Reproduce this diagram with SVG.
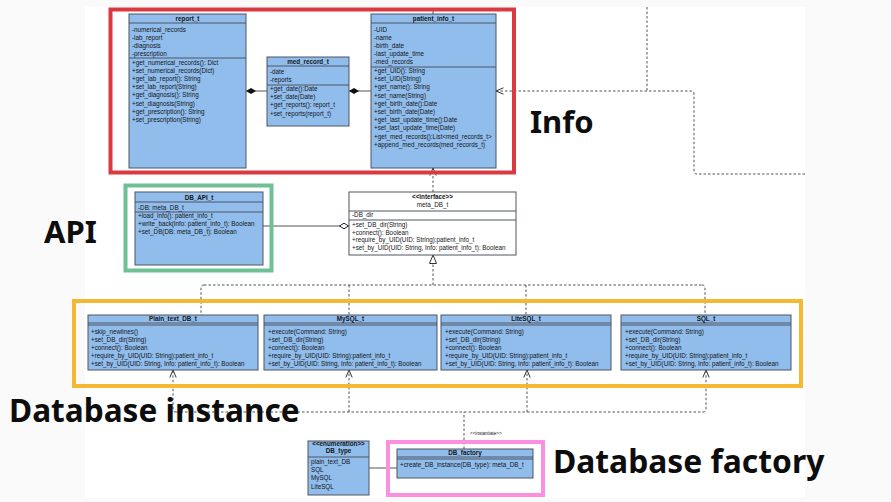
<svg xmlns="http://www.w3.org/2000/svg" width="891" height="502" viewBox="0 0 891 502">
<style>
.cls{fill:#90bdec;stroke:#4f5563;stroke-width:1}
.iface{fill:#ffffff;stroke:#4f5563;stroke-width:1}
.sep{stroke:#4f5563;stroke-width:1;fill:none}
.t{font-family:"Liberation Sans",Arial,sans-serif;font-size:6.3px;fill:#151515}
.h{font-weight:bold;text-anchor:middle}
.lbl{font-family:"Noto Sans","DejaVu Sans",sans-serif;font-weight:bold;font-size:31px;fill:#0d0d0d}
.dash{fill:none;stroke:#555;stroke-width:1;stroke-dasharray:2.5,2}
.solid{fill:none;stroke:#555;stroke-width:1}
.hl{fill:none;stroke-width:4}
</style>
<defs>
<marker id="open" viewBox="0 0 8 8" refX="8" refY="4" markerWidth="8" markerHeight="8" orient="auto" markerUnits="userSpaceOnUse"><path d="M0.5,0.8 L8,4 L0.5,7.2" fill="none" stroke="#333" stroke-width="1"/></marker>
<marker id="tri" viewBox="0 0 9 8" refX="9" refY="4" markerWidth="9" markerHeight="8" orient="auto" markerUnits="userSpaceOnUse"><path d="M0.5,0.5 L9,4 L0.5,7.5 Z" fill="#fff" stroke="#333" stroke-width="1"/></marker>
<marker id="fdia" viewBox="0 0 10 6" refX="10" refY="3" markerWidth="10" markerHeight="6" orient="auto" markerUnits="userSpaceOnUse"><path d="M0,3 L5,0 L10,3 L5,6 Z" fill="#111"/></marker>
<marker id="hdia" viewBox="0 0 10 7" refX="10" refY="3.5" markerWidth="10" markerHeight="7" orient="auto" markerUnits="userSpaceOnUse"><path d="M0.5,3.5 L5,0.7 L9.5,3.5 L5,6.3 Z" fill="#fff" stroke="#222" stroke-width="1"/></marker>
</defs>
<rect x="0" y="0" width="891" height="502" fill="#fafafa"/>
<rect x="85" y="7" width="720" height="490" fill="#ffffff"/>

<g id="connectors">
<path class="solid" d="M267,91 H246" marker-end="url(#fdia)"/>
<path class="solid" d="M371,91 H349" marker-end="url(#fdia)"/>
<path class="solid" d="M263,226 H349" marker-end="url(#hdia)"/>
<path class="solid" d="M369,468 H397"/>
<path class="solid" d="M433,8 V14"/>
<path class="dash" d="M433,192 V168" marker-end="url(#open)"/>
<path class="dash" d="M805,174 H697 Q694,174 694,171 V94 Q694,91 691,91 H496" marker-end="url(#open)"/>
<path class="dash" d="M647,7 V91"/>
<path class="dash" d="M433,285 V255" marker-end="url(#tri)"/>
<path class="dash" d="M204,285 H702"/>
<path class="dash" d="M204,285 Q201,285 201,288 V315"/>
<path class="dash" d="M349,285 V315"/>
<path class="dash" d="M526,285 V315"/>
<path class="dash" d="M702,285 Q705,285 705,288 V315"/>
<path class="dash" d="M464,449 V412"/>
<path class="dash" d="M176,412 H703"/>
<path class="dash" d="M176,412 Q173,412 173,409 V370" marker-end="url(#open)"/>
<path class="dash" d="M349,412 V370" marker-end="url(#open)"/>
<path class="dash" d="M527,412 V370" marker-end="url(#open)"/>
<path class="dash" d="M703,412 Q706,412 706,409 V370" marker-end="url(#open)"/>
<text class="t" x="470" y="435" style="font-size:4.6px">&lt;&lt;instantiate&gt;&gt;</text>
</g>

<g id="report_t">
<rect class="cls" x="129" y="14" width="117" height="154"/>
<path class="sep" d="M129,23 H246 M129,58 H246"/>
<text class="t h" x="187.5" y="21">report_t</text>
<text class="t" x="132" y="31.5">-numerical_records</text>
<text class="t" x="132" y="39.5">-lab_report</text>
<text class="t" x="132" y="47.5">-diagnosis</text>
<text class="t" x="132" y="55.5">-prescription</text>
<text class="t" x="132" y="64.5">+get_numerical_records(): Dict</text>
<text class="t" x="132" y="72.7">+set_numerical_records(Dict)</text>
<text class="t" x="132" y="80.9">+get_lab_report(): String</text>
<text class="t" x="132" y="89.1">+set_lab_report(String)</text>
<text class="t" x="132" y="97.3">+get_diagnosis(): String</text>
<text class="t" x="132" y="105.5">+set_diagnosis(String)</text>
<text class="t" x="132" y="113.7">+get_prescription(): String</text>
<text class="t" x="132" y="121.9">+set_prescription(String)</text>
</g>

<g id="med_record_t">
<rect class="cls" x="267" y="57" width="82" height="69"/>
<path class="sep" d="M267,66 H349 M267,85 H349"/>
<text class="t h" x="308" y="64">med_record_t</text>
<text class="t" x="270" y="73.5">-date</text>
<text class="t" x="270" y="82">-reports</text>
<text class="t" x="270" y="91">+get_date():Date</text>
<text class="t" x="270" y="99.2">+set_date(Date)</text>
<text class="t" x="270" y="107.4">+get_reports(): report_t</text>
<text class="t" x="270" y="115.6">+set_reports(report_t)</text>
</g>

<g id="patient_info_t">
<rect class="cls" x="371" y="14" width="125" height="154"/>
<path class="sep" d="M371,23 H496 M371,67 H496"/>
<text class="t h" x="433.5" y="21">patient_info_t</text>
<text class="t" x="374" y="31.5">-UID</text>
<text class="t" x="374" y="39.5">-name</text>
<text class="t" x="374" y="47.5">-birth_date</text>
<text class="t" x="374" y="55.5">-last_update_time</text>
<text class="t" x="374" y="63.5">-med_records</text>
<text class="t" x="374" y="73">+get_UID(): String</text>
<text class="t" x="374" y="81.2">+set_UID(String)</text>
<text class="t" x="374" y="89.4">+get_name(): String</text>
<text class="t" x="374" y="97.6">+set_name(String)</text>
<text class="t" x="374" y="105.8">+get_birth_date():Date</text>
<text class="t" x="374" y="114">+set_birth_date(Date)</text>
<text class="t" x="374" y="122.2">+get_last_update_time():Date</text>
<text class="t" x="374" y="130.4">+set_last_update_time(Date)</text>
<text class="t" x="374" y="138.6">+get_med_records():List&lt;med_records_t&gt;</text>
<text class="t" x="374" y="146.8">+append_med_records(med_records_t)</text>
</g>

<g id="DB_API_t">
<rect class="cls" x="135" y="192" width="128" height="73"/>
<path class="sep" d="M135,202 H263 M135,212 H263"/>
<text class="t h" x="199" y="199.5">DB_API_t</text>
<text class="t" x="138" y="210">-DB: meta_DB_t</text>
<text class="t" x="138" y="218.3">+load_info(): patient_info_t</text>
<text class="t" x="138" y="226.3">+write_back(Info: patient_info_t): Boolean</text>
<text class="t" x="138" y="234.3">+set_DB(DB: meta_DB_t): Boolean</text>
</g>

<g id="meta_DB_t">
<rect class="iface" x="349" y="192" width="167" height="63"/>
<path class="sep" d="M349,211 H516 M349,220 H516"/>
<text class="t h" x="432.5" y="198.5">&lt;&lt;interface&gt;&gt;</text>
<text class="t h" x="432.5" y="206.5" style="font-weight:normal">meta_DB_t</text>
<text class="t" x="352" y="216.5">-DB_dir</text>
<text class="t" x="352" y="227">+set_DB_dir(String)</text>
<text class="t" x="352" y="234.6">+connect(): Boolean</text>
<text class="t" x="352" y="242.4">+require_by_UID(UID: String):patient_info_t</text>
<text class="t" x="352" y="250.2">+set_by_UID(UID: String, Info: patient_info_t): Boolean</text>
</g>

<g id="Plain_text_DB_t">
<rect class="cls" x="88" y="315" width="170" height="55"/>
<path class="sep" d="M88,323 H258 M88,325 H258"/>
<text class="t h" x="173" y="321.3">Plain_text_DB_t</text>
<text class="t" x="91" y="333.8">+skip_newlines()</text>
<text class="t" x="91" y="341.8">+set_DB_dir(String)</text>
<text class="t" x="91" y="349.8">+connect(): Boolean</text>
<text class="t" x="91" y="357.8">+require_by_UID(UID: String):patient_info_t</text>
<text class="t" x="91" y="365.8">+set_by_UID(UID: String, Info: patient_info_t): Boolean</text>
</g>

<g id="MySQL_t">
<rect class="cls" x="264" y="315" width="173" height="55"/>
<path class="sep" d="M264,323 H437 M264,325 H437"/>
<text class="t h" x="350.5" y="321.3">MySQL_t</text>
<text class="t" x="268" y="333.8">+execute(Command: String)</text>
<text class="t" x="268" y="341.8">+set_DB_dir(String)</text>
<text class="t" x="268" y="349.8">+connect(): Boolean</text>
<text class="t" x="268" y="357.8">+require_by_UID(UID: String):patient_info_t</text>
<text class="t" x="268" y="365.8">+set_by_UID(UID: String, Info: patient_info_t): Boolean</text>
</g>

<g id="LiteSQL_t">
<rect class="cls" x="441" y="315" width="170" height="55"/>
<path class="sep" d="M441,323 H611 M441,325 H611"/>
<text class="t h" x="526" y="321.3">LiteSQL_t</text>
<text class="t" x="445" y="333.8">+execute(Command: String)</text>
<text class="t" x="445" y="341.8">+set_DB_dir(String)</text>
<text class="t" x="445" y="349.8">+connect(): Boolean</text>
<text class="t" x="445" y="357.8">+require_by_UID(UID: String):patient_info_t</text>
<text class="t" x="445" y="365.8">+set_by_UID(UID: String, Info: patient_info_t): Boolean</text>
</g>

<g id="SQL_t">
<rect class="cls" x="621" y="315" width="170" height="55"/>
<path class="sep" d="M621,323 H791 M621,325 H791"/>
<text class="t h" x="706" y="321.3">SQL_t</text>
<text class="t" x="625" y="333.8">+execute(Command: String)</text>
<text class="t" x="625" y="341.8">+set_DB_dir(String)</text>
<text class="t" x="625" y="349.8">+connect(): Boolean</text>
<text class="t" x="625" y="357.8">+require_by_UID(UID: String):patient_info_t</text>
<text class="t" x="625" y="365.8">+set_by_UID(UID: String, Info: patient_info_t): Boolean</text>
</g>

<g id="DB_type">
<rect class="cls" x="308" y="441" width="61" height="54"/>
<path class="sep" d="M308,457 H369"/>
<text class="t h" x="338.5" y="446">&lt;&lt;enumeration&gt;&gt;</text>
<text class="t h" x="338.5" y="453.3">DB_type</text>
<text class="t" x="311" y="463.8">plain_text_DB</text>
<text class="t" x="311" y="472">SQL</text>
<text class="t" x="311" y="480.3">MySQL</text>
<text class="t" x="311" y="488.7">LiteSQL</text>
</g>

<g id="DB_factory">
<rect class="cls" x="397" y="449" width="136" height="29"/>
<path class="sep" d="M397,457 H533 M397,459 H533"/>
<text class="t h" x="465" y="455">DB_factory</text>
<text class="t" x="400" y="467">+create_DB_instance(DB_type): meta_DB_t</text>
</g>

<g id="highlights">
<rect class="hl" x="110.5" y="9.5" width="403.5" height="163" stroke="#dc3840"/>
<rect class="hl" x="125.5" y="185.5" width="146" height="85" stroke="#6fc095"/>
<rect class="hl" x="74" y="301" width="727" height="85" stroke="#f4b930"/>
<rect class="hl" x="388" y="442" width="155" height="53" stroke="#fb90e0"/>
</g>

<g id="labels">
<text class="lbl" x="530" y="133">Info</text>
<text class="lbl" x="44" y="243">API</text>
<text class="lbl" x="9" y="422" style="font-size:31.6px">Database instance</text>
<text class="lbl" x="553" y="473" style="font-size:31.8px">Database factory</text>
</g>
</svg>
